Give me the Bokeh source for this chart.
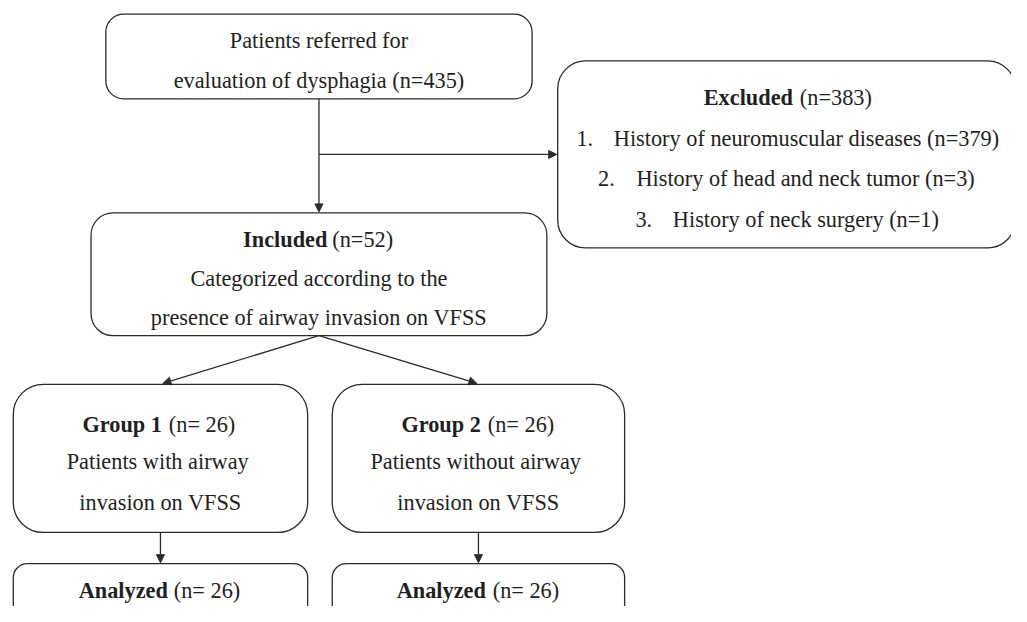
from bokeh.plotting import figure
from bokeh.models import Range1d, BoxAnnotation, Arrow, NormalHead
from bokeh.core.properties import value
from bokeh.embed import file_html
from bokeh.resources import INLINE

# ---- content ----
referred_lines = ["Patients referred for", "evaluation of dysphagia (n=435)"]
excluded_title = ["Excluded", "(n=383)"]
excluded_nums = ["1.", "2.", "3."]
excluded_items = ["History of neuromuscular diseases (n=379)",
                  "History of head and neck tumor (n=3)",
                  "History of neck surgery (n=1)"]
included_title = ["Included", "(n=52)"]
included_lines = ["Categorized according to the", "presence of airway invasion on VFSS"]
group_names = ["Group 1", "Group 2"]
group_counts = ["(n= 26)", "(n= 26)"]
group_line1 = ["Patients  with airway", "Patients  without airway"]
group_line2 = ["invasion on VFSS", "invasion on VFSS"]
analyzed_names = ["Analyzed", "Analyzed"]
analyzed_counts = ["(n= 26)", "(n= 26)"]

# ---- layout (reference pixel coordinates, y downwards) ----
FONT = value("Liberation Serif")
FS = "22.3px"
TXT = "#231f20"
LINE = "#2b2b2b"
LW = 1.3

W, H = 1011, 606
p = figure(width=W, height=H, x_range=Range1d(0, 1027), y_range=Range1d(622, 0),
           x_axis_type=None, y_axis_type=None, toolbar_location=None,
           output_backend="svg", min_border=0)
p.outline_line_color = None
p.grid.visible = False
p.background_fill_color = "white"

def box(l, r, t, b, rad):
    p.add_layout(BoxAnnotation(left=l, right=r, top=t, bottom=b, border_radius=rad,
                               fill_alpha=0, line_color=LINE, line_alpha=1.0,
                               line_width=LW, editable=False))

def txt(x, y, s, align="center", bold=False):
    p.text(x=[x], y=[y], text=[s], text_font=FONT, text_font_size=FS,
           text_color=TXT, text_align=align, text_baseline="middle",
           text_font_style="bold" if bold else "normal")

def arrow(x0, y0, x1, y1):
    p.add_layout(Arrow(x_start=x0, y_start=y0, x_end=x1, y_end=y1,
                       line_color=LINE, line_width=LW,
                       end=NormalHead(size=8, fill_color=LINE, line_color=LINE, line_width=1)))

# boxes
B1 = (107, 540, 14, 101)
INC = (92, 555, 218, 344)
EXC = (566, 1031, 62, 254)
GRP = [(13, 312, 394, 546), (337, 634, 394, 546)]
ANA = [(13, 312, 578, 640), (337, 634, 578, 640)]

box(*B1, 18)
box(*INC, 22)
box(*EXC, 28)
for g in GRP:
    box(*g, 30)
for a in ANA:
    box(*a, 14)

# arrows
cx = (B1[0] + B1[1]) / 2
arrow(cx, B1[3], cx, INC[2] - 1)
arrow(cx, 158, EXC[0] - 1, 158)
for g, a, tipx in zip(GRP, ANA, [165, 484]):
    arrow(cx, INC[3], tipx, g[2] - 1)
    gx = (g[0] + g[1]) / 2
    arrow(gx, g[3], gx, a[2] - 1)

# texts: referred
txt(cx, 41, referred_lines[0])
txt(cx, 82, referred_lines[1])

# excluded
txt(805, 100, excluded_title[0], align="right", bold=True)
txt(812, 100, excluded_title[1], align="left")
num_x = [585, 607, 645]
item_x = [623, 646, 683]
item_y = [142, 183, 225]
for n, s, nx, ix, y in zip(excluded_nums, excluded_items, num_x, item_x, item_y):
    txt(nx, y, n, align="left")
    txt(ix, y, s, align="left")

# included
txt(332, 245, included_title[0], align="right", bold=True)
txt(337, 245, included_title[1], align="left")
txt(cx, 285, included_lines[0])
txt(cx, 325, included_lines[1])

# groups
split_g = [(164, 171), (488, 495)]
split_a = [(170, 176), (493, 500)]
for i, g in enumerate(GRP):
    gx = (g[0] + g[1]) / 2
    txt(split_g[i][0], 435, group_names[i], align="right", bold=True)
    txt(split_g[i][1], 435, group_counts[i], align="left")
    txt(gx, 473, group_line1[i])
    txt(gx, 515, group_line2[i])
    txt(split_a[i][0], 606, analyzed_names[i], align="right", bold=True)
    txt(split_a[i][1], 606, analyzed_counts[i], align="left")

open("out.html", "w").write(file_html(p, INLINE))
